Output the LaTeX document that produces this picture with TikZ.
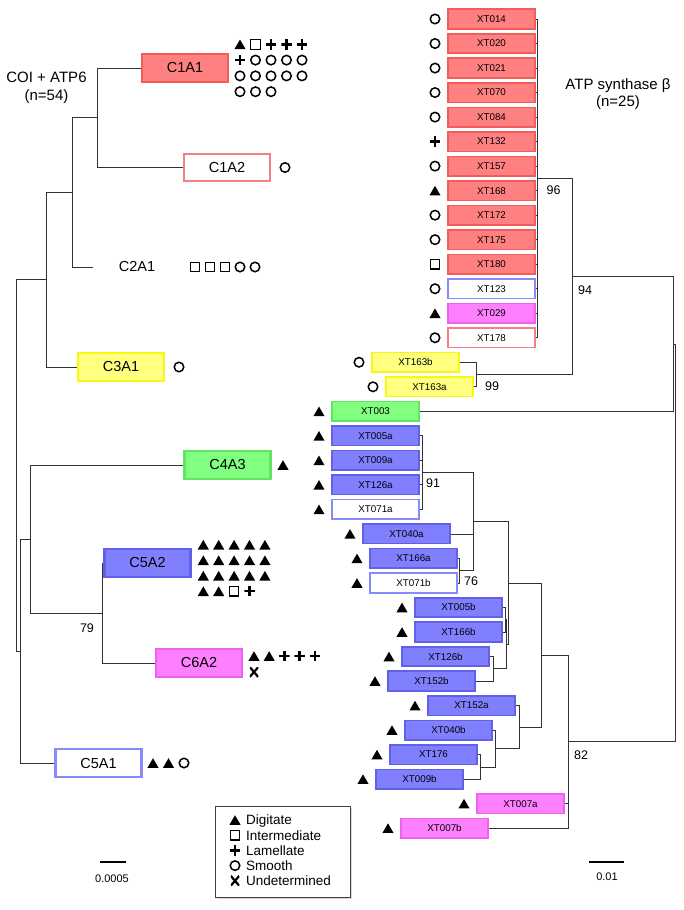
\documentclass[tikz,border=0pt]{standalone}
\usepackage{fontspec}
\setmainfont{Liberation Sans}
\usepackage{tikz}
\usetikzlibrary{shapes.geometric,shadows}
\definecolor{redF}{RGB}{255,128,128}
\definecolor{redD}{RGB}{244,92,92}
\definecolor{redL}{RGB}{244,128,128}
\definecolor{blueF}{RGB}{128,128,255}
\definecolor{blueD}{RGB}{96,96,232}
\definecolor{blueL}{RGB}{136,136,255}
\definecolor{yelF}{RGB}{255,255,128}
\definecolor{yelD}{RGB}{248,248,20}
\definecolor{grnF}{RGB}{128,255,128}
\definecolor{grnD}{RGB}{96,230,96}
\definecolor{magF}{RGB}{255,128,255}
\definecolor{magD}{RGB}{240,96,240}

\begin{document}
\begin{tikzpicture}[x=1pt,y=-1pt,
  branch/.style={draw=black!80,line width=0.8pt},
  otu/.style={draw,line width=2.2pt,minimum width=86pt,minimum height=27.5pt,inner sep=0pt,font=\fontsize{14.5}{16}\selectfont},
  xt/.style={draw,line width=1.6pt,minimum width=87.5pt,minimum height=19.5pt,inner sep=0pt,font=\fontsize{9.8}{10}\selectfont},
  boxR/.style={fill=redF,draw=redD},
  boxRw/.style={fill=white,draw=redL},
  boxB/.style={fill=blueF,draw=blueD},
  boxBw/.style={fill=white,draw=blueL},
  boxY/.style={fill=yelF,draw=yelD},
  boxG/.style={fill=grnF,draw=grnD},
  boxM/.style={fill=magF,draw=magD},
  dig/.style={regular polygon,regular polygon sides=3,fill=black,inner sep=0pt,minimum size=12.8pt,yshift=-1.6pt},
  inter/.style={draw,line width=1.1pt,inner sep=0pt,minimum size=9.5pt},
  lam/.style={inner sep=0pt,minimum size=10.5pt,path picture={\draw[line width=2.5pt] (path picture bounding box.north) -- (path picture bounding box.south) (path picture bounding box.west) -- (path picture bounding box.east);}},
  smo/.style={circle,draw,line width=1.5pt,inner sep=0pt,minimum size=9.5pt},
  und/.style={inner sep=0pt,minimum width=8.5pt,minimum height=10pt,path picture={\draw[line width=2.2pt] (path picture bounding box.north west) -- (path picture bounding box.south east) (path picture bounding box.north east) -- (path picture bounding box.south west);}},
  boot/.style={font=\fontsize{12.5}{14}\selectfont},
  title/.style={align=center,font=\fontsize{15}{17.5}\selectfont},
  scal/.style={font=\fontsize{11}{12}\selectfont}]
\useasboundingbox (0,0) rectangle (683,910);

\node[title] (tl) at (46.5,88) {COI + ATP6\\(n=54)};
\node[title] (tr) at (618,94) {ATP synthase β\\(n=25)};

\node[otu,boxR] (C1A1) at (185,68) {C1A1};
\node[otu,boxRw] (C1A2) at (227,167.5) {C1A2};
\node[otu,draw=none] (C2A1) at (137,267) {C2A1};
\node[otu,boxY] (C3A1) at (121,367) {C3A1};
\node[otu,boxG] (C4A3) at (227.5,465) {C4A3};
\node[otu,boxB] (C5A2) at (147.5,563) {C5A2};
\node[otu,boxM] (C6A2) at (199,663) {C6A2};
\node[otu,boxBw] (C5A1) at (98.5,763) {C5A1};

\coordinate (a1) at (97,117.75);
\coordinate (a2) at (72,192.4);
\coordinate (a3) at (46,279.7);
\coordinate (b3) at (102,613);
\coordinate (b2) at (30,539);
\coordinate (b1) at (20,651);
\coordinate (r) at (16,465.3);
\foreach \a/\b in {a1/C1A1.west,a1/C1A2.west,a2/a1,a2/C2A1.west,a3/a2,a3/C3A1.west,
  r/a3,r/b1,b1/b2,b1/C5A1.west,b2/C4A3.west,b2/b3,b3/C5A2.west,b3/C6A2.west}
  \draw[branch] (\a) |- (\b);
\node[boot] (bs79) at (87,628) {79};

\foreach \s [count=\i from 0] in {dig,inter,lam,lam,lam,lam,smo,smo,smo,smo,smo,smo,smo,smo,smo,smo,smo,smo}
  \node[\s] (ga\i) at ({240+15.5*mod(\i,5)},{44.3+15.8*int(\i/5)}) {};
\node[smo] (gb) at (285,167.5) {};
\foreach \s [count=\i from 0] in {inter,inter,inter,smo,smo}
  \node[\s] (gc\i) at ({195+15*\i},267) {};
\node[smo] (gd) at (179,367) {};
\node[dig] (ge) at (283,465) {};
\foreach \s [count=\i from 0] in {dig,dig,dig,dig,dig,dig,dig,dig,dig,dig,dig,dig,dig,dig,dig,dig,dig,inter,lam}
  \node[\s] (gf\i) at ({203.3+15.4*mod(\i,5)},{544.7+15.5*int(\i/5)}) {};
\foreach \s [count=\i from 0] in {dig,dig,lam,lam,lam}
  \node[\s] (gg\i) at ({254+15.2*\i},656) {};
\node[und] (gh) at (254,672) {};
\foreach \s [count=\i from 0] in {dig,dig,smo}
  \node[\s] (gi\i) at ({153+15.5*\i},763) {};

\foreach \nm/\bx/\lf/\sy [count=\k from 0] in {
  XT014/boxR/447/smo,XT020/boxR/447/smo,XT021/boxR/447/smo,XT070/boxR/447/smo,XT084/boxR/447/smo,
  XT132/boxR/447/lam,XT157/boxR/447/smo,XT168/boxR/447/dig,XT172/boxR/447/smo,XT175/boxR/447/smo,
  XT180/boxR/447/inter,XT123/boxBw/447/smo,XT029/boxM/447/dig,XT178/boxRw/447/smo,
  XT163b/boxY/371/smo,XT163a/boxY/385/smo,XT003/boxG/331/dig,
  XT005a/boxB/331/dig,XT009a/boxB/331/dig,XT126a/boxB/331/dig,XT071a/boxBw/331/dig,
  XT040a/boxB/362/dig,XT166a/boxB/369/dig,XT071b/boxBw/369/dig,
  XT005b/boxB/414/dig,XT166b/boxB/414/dig,XT126b/boxB/401/dig,XT152b/boxB/387/dig,
  XT152a/boxB/427/dig,XT040b/boxB/404/dig,XT176/boxB/389/dig,XT009b/boxB/375/dig,
  XT007a/boxM/476/dig,XT007b/boxM/400/dig}
{
  \node[xt,\bx] (\nm) at ({\lf+44.5},{19+24.52*\k}) {\nm};
  \node[\sy] (m\nm) at ({\lf-12},{19+24.52*\k}) {};
}

\coordinate (p96) at (537,178.4);
\coordinate (p99) at (476.5,374.5);
\coordinate (p94) at (572,276.5);
\coordinate (pA) at (673,343.9);
\coordinate (R) at (675.5,542.7);
\coordinate (p82) at (568,741.6);
\coordinate (pB) at (541,655);
\coordinate (pC) at (508,583);
\coordinate (pE) at (473,521.7);
\coordinate (p91) at (422,472.6);
\coordinate (p76) at (459.5,570.7);
\coordinate (pF) at (506.5,644.3);
\coordinate (pG) at (505,619.7);
\coordinate (pH) at (493,668.8);
\coordinate (pD) at (519,727);
\coordinate (pI) at (495,748.5);
\coordinate (pJ) at (480,766.9);
\foreach \a/\b in {p96/XT014.east,p96/XT020.east,p96/XT021.east,p96/XT070.east,p96/XT084.east,
  p96/XT132.east,p96/XT157.east,p96/XT168.east,p96/XT172.east,p96/XT175.east,p96/XT180.east,
  p96/XT123.east,p96/XT029.east,p96/XT178.east,p99/XT163b.east,p99/XT163a.east,
  p94/p96,p94/p99,pA/p94,pA/XT003.east,R/pA,R/p82,
  p82/pB,p82/XT007a.east,p82/XT007b.east,pB/pC,pB/pD,pC/pE,pC/pF,
  pE/p91,pE/XT040a.east,pE/p76,p91/XT005a.east,p91/XT009a.east,p91/XT126a.east,p91/XT071a.east,
  p76/XT166a.east,p76/XT071b.east,pF/pG,pF/pH,pG/XT005b.east,pG/XT166b.east,
  pH/XT126b.east,pH/XT152b.east,pD/XT152a.east,pD/pI,pI/XT040b.east,pI/pJ,
  pJ/XT176.east,pJ/XT009b.east}
  \draw[branch] (\a) |- (\b);

\node[boot] (bs96) at (553.5,190) {96};
\node[boot] (bs94) at (585,290) {94};
\node[boot] (bs99) at (492,386) {99};
\node[boot] (bs91) at (433,483) {91};
\node[boot] (bs76) at (471,581) {76};
\node[boot] (bs82) at (581,755) {82};

\node[draw=black!75,line width=1pt,fill=white,minimum width=135pt,minimum height=91pt,inner sep=0pt,
  drop shadow={shadow xshift=1.5pt,shadow yshift=-1.5pt,opacity=.3}] (legend) at (282.5,851.5) {};
\foreach \s/\txt [count=\i from 0] in {dig/Digitate,inter/Intermediate,lam/Lamellate,smo/Smooth,und/Undetermined}
{
  \node[\s] (k\i) at (235,{820+15.2*\i}) {};
  \node[anchor=base west,inner sep=0pt,font=\fontsize{13.5}{14}\selectfont] (kt\i) at (246,{824.8+15.2*\i}) {\txt};
}

\coordinate (sa1) at (100,862);
\coordinate (sa2) at (126,862);
\draw[line width=1.6pt] (sa1) -- (sa2);
\node[scal] (sa) at (112,879) {0.0005};
\coordinate (sb1) at (589,862);
\coordinate (sb2) at (624,862);
\draw[line width=1.6pt] (sb1) -- (sb2);
\node[scal] (sb) at (607,877) {0.01};
\end{tikzpicture}
\end{document}
